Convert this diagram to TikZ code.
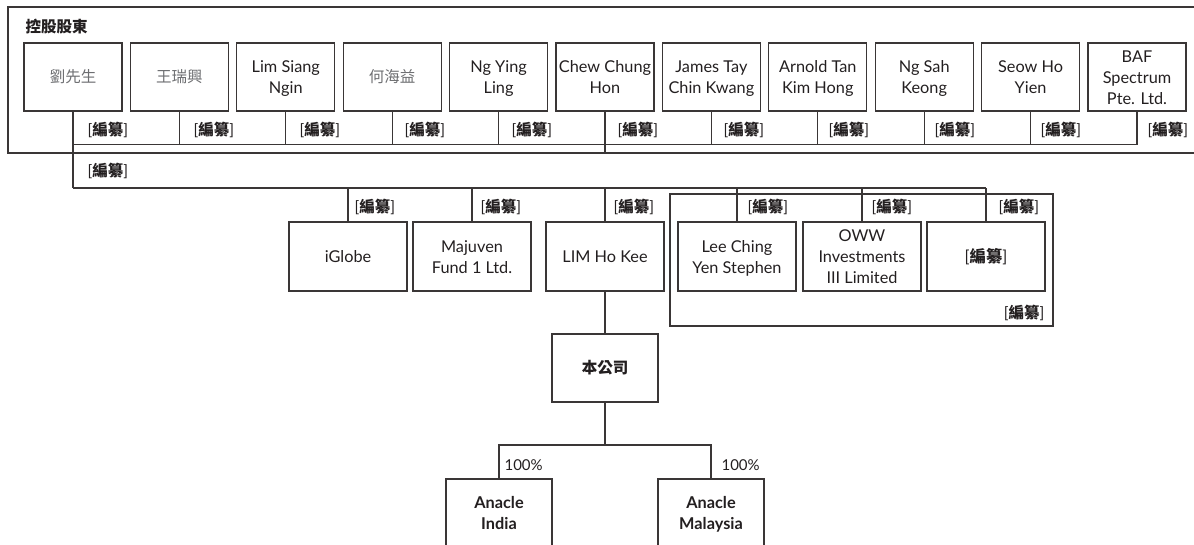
\documentclass[tikz,border=0pt]{standalone}
\usepackage{fontspec}
\setmainfont{Lato}
\newfontfamily\cjk{Noto Sans CJK TC}
\definecolor{ink}{HTML}{231F20}
\definecolor{linec}{HTML}{3A3636}
\definecolor{greyname}{HTML}{6D6E71}
\newcommand\bian{[{\cjk\bfseries 編纂}]}
\newcommand\st{\rule[-3pt]{0pt}{18.5pt}}
\begin{document}
\begin{tikzpicture}[x=1pt,y=-1pt,line width=1.1pt,color=linec,
  basebox/.style={draw=linec,text=ink,align=center,inner sep=1pt,
    font=\fontsize{16.3}{21}\selectfont},
  tbox/.style={basebox,minimum width=98pt,minimum height=68pt},
  mbox/.style={basebox,minimum width=118pt,minimum height=69pt},
  cbox/.style={basebox,minimum width=106pt,minimum height=68pt,font=\fontsize{16.3}{21}\selectfont\bfseries},
  grp/.style={draw=linec,minimum width=383pt,minimum height=132pt,inner sep=0pt},
  lbl/.style={anchor=west,inner sep=0pt,text=ink,font=\fontsize{15.5}{17}\selectfont},
  pct/.style={anchor=west,inner sep=0pt,text=ink,font=\fontsize{15}{17}\selectfont},
  ttl/.style={anchor=west,inner sep=0pt,text=ink,font=\fontsize{15.5}{18}\selectfont\cjk\bfseries},
  gname/.style={text=greyname,font=\fontsize{15.5}{21}\selectfont\cjk}]
\useasboundingbox (0,0) rectangle (1194,544);

% outer frame (open at right)
\coordinate (fa) at (1200,7);
\coordinate (fb) at (8,7);
\coordinate (fc) at (8,153);
\coordinate (fd) at (1200,153);
\draw (fa) -- (fb) -- (fc) -- (fd);
\node[ttl] (title) at (25,27) {控股股東};

% top row
\node[tbox,gname] (t1) at (73,77) {劉先生};
\node[tbox,gname] (t2) at (179.4,77) {王瑞興};
\node[tbox] (t3) at (285.8,77) {\st Lim Siang\\\st Ngin};
\node[tbox,gname] (t4) at (392.2,77) {何海益};
\node[tbox] (t5) at (498.6,77) {\st Ng Ying\\\st Ling};
\node[tbox] (t6) at (605,77) {\st Chew Chung\\\st Hon};
\node[tbox] (t7) at (711.4,77) {\st James Tay\\\st Chin Kwang};
\node[tbox] (t8) at (817.8,77) {\st Arnold Tan\\\st Kim Hong};
\node[tbox] (t9) at (924.2,77) {\st Ng Sah\\\st Keong};
\node[tbox] (t10) at (1030.6,77) {\st Seow Ho\\\st Yien};
\node[tbox] (t11) at (1137,77) {\st BAF\\\st Spectrum\\\st Pte. Ltd.};

\coordinate (h1) at (0,144.5);
\coordinate (h2) at (0,188);
\draw (t1.south |- h1) -- (t11.south |- h1);
\foreach \i in {2,3,4,5,7,8,9,10,11} {\draw (t\i.south) -- (t\i.south |- h1);}
\draw (t6.south) -- (t6.south |- fc);
\draw (t1.south) -- (t1.south |- h2);

\node[lbl] (l1) at (87,130) {\bian};
\node[lbl] (l2) at (193,130) {\bian};
\node[lbl] (l3) at (299,130) {\bian};
\node[lbl] (l4) at (404,130) {\bian};
\node[lbl] (l5) at (511,130) {\bian};
\node[lbl] (l6) at (617,130) {\bian};
\node[lbl] (l7) at (723,130) {\bian};
\node[lbl] (l8) at (828,130) {\bian};
\node[lbl] (l9) at (934,130) {\bian};
\node[lbl] (l10) at (1040,130) {\bian};
\node[lbl] (l11) at (1147,130) {\bian};
\node[lbl] (l0) at (87,171) {\bian};

% group enclosure
\node[grp] (g) at (861.5,260) {};
\node[lbl,anchor=east] (lg) at (1045,313) {\bian};

% middle row
\node[mbox] (m1) at (348,256.5) {iGlobe};
\node[mbox] (m2) at (472,256.5) {\st Majuven\\\st Fund 1 Ltd.};
\node[mbox] (m3) at (605,256.5) {LIM Ho Kee};
\node[mbox] (m4) at (737,256.5) {\st Lee Ching\\\st Yen Stephen};
\node[mbox] (m5) at (862,256.5) {\st OWW\\\st Investments\\\st III Limited};
\node[mbox] (m6) at (986,256.5) {\bian};

\draw (t1.south |- h2) -- (m6.north |- h2);
\foreach \i in {1,...,6} {\draw (m\i.north |- h2) -- (m\i.north);}

\node[lbl] (k1) at (354,207) {\bian};
\node[lbl] (k2) at (480,207) {\bian};
\node[lbl] (k3) at (613,207) {\bian};
\node[lbl] (k4) at (747,207) {\bian};
\node[lbl] (k5) at (871,207) {\bian};
\node[lbl] (k6) at (998,207) {\bian};

% company
\node[cbox,font=\fontsize{15.5}{21}\selectfont\cjk\bfseries] (co) at (605,368) {本公司};
\draw (m3.south) -- (co.north);

\node[cbox] (s1) at (499,513) {\st Anacle\\\st India};
\node[cbox] (s2) at (711,513) {\st Anacle\\\st Malaysia};
\coordinate (j) at (605,445);
\draw (co.south) -- (co.south |- j);
\draw (s1.north) -- (s1.north |- j) -- (s2.north |- j) -- (s2.north);
\node[pct] (p1) at (504,465) {100\%};
\node[pct] (p2) at (721,465) {100\%};
\end{tikzpicture}
\end{document}
